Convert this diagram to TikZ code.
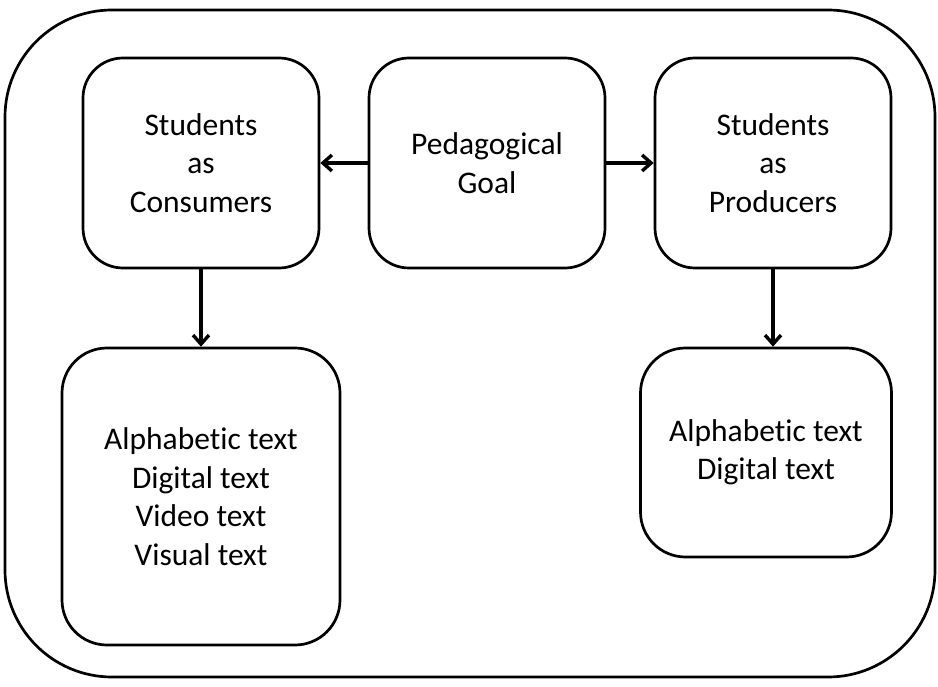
\documentclass[tikz,border=0pt]{standalone}
\usepackage{fontspec}
\setmainfont{Carlito}[Ligatures=NoCommon]
\usetikzlibrary{positioning, arrows.meta}

\begin{document}
\begin{tikzpicture}[node distance=286pt, line width=2.7pt, >={Straight Barb[length=9pt, width=16pt]}, every node/.style={draw, line width=2.7pt, text centered, align=center, font=\fontsize{31.5}{38.5}\selectfont}, toprow/.style={rounded corners=40pt, minimum width=236pt, minimum height=210pt}, textlist/.style={rounded corners=45pt, minimum height=#1}, link/.style={->, line width=3.4pt}]

\def\listgap{47.5pt}

  \useasboundingbox (0,0) rectangle (938pt,-687pt);
  % Frame
  \draw[rounded corners=107pt] (5pt,-10pt) rectangle (935pt,-677pt);

  % Nodes
  \node (goal) at (487pt,-163pt) [toprow] {Pedagogical\\Goal};
  \node (consumers) [left of=goal, toprow] {Students\\as\\Consumers};
  \node (producers) [right of=goal, toprow] {Students\\as\\Producers};
  \node (consumerlist) [below of=consumers, yshift=-\listgap, textlist=297pt, minimum width=278pt] {Alphabetic text\\Digital text\\Video text\\Visual text};
  \node (producerlist) [below of=producers, yshift=-3.5pt, xshift=-7pt, textlist=209pt, minimum width=251pt] {Alphabetic text\\Digital text};

  % Arrows
  \draw[link] (goal) -- (consumers);
  \draw[link] (goal) -- (producers);
  \draw[link] (consumers) -- (consumerlist);
  \draw[link] (producers) -- (producers |- producerlist.north);

\end{tikzpicture}
\end{document}
